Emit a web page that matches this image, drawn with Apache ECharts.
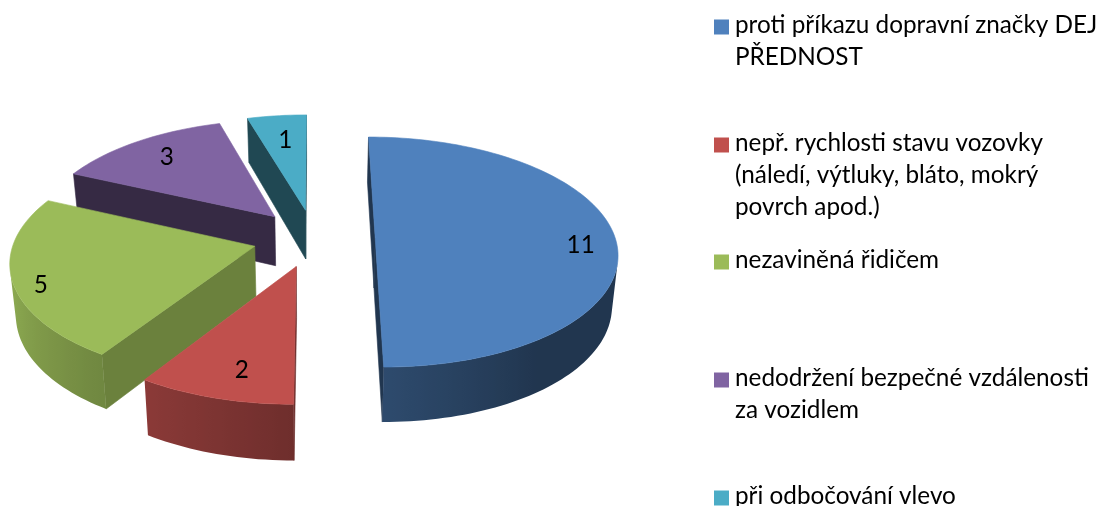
<!DOCTYPE html>
<html><head><meta charset="utf-8">
<style>html,body{margin:0;padding:0;background:#fff}#c{width:1102px;height:506px}</style>
<script src="https://cdn.jsdelivr.net/npm/echarts@6/dist/echarts.min.js"></script>
</head><body><div id="c"></div>
<script>
const categories = ['proti příkazu dopravní značky DEJ PŘEDNOST','nepř. rychlosti stavu vozovky (náledí, výtluky, bláto, mokrý povrch apod.)','nezaviněná řidičem','nedodržení bezpečné vzdálenosti za vozidlem','při odbočování vlevo'];
const values = [11,2,5,3,1];
const firstLines = ['proti příkazu dopravní značky DEJ','nepř. rychlosti stavu vozovky','nezaviněná řidičem','nedodržení bezpečné vzdálenosti','při odbočování vlevo'];
const moreLines = [['PŘEDNOST'],['(náledí, výtluky, bláto, mokrý','povrch apod.)'],[],['za vozidlem'],[]];
const colors = ['#4f81bd','#c0504d','#9bbb59','#8064a2','#4bacc6'];
const wallShade = [0.42,0.56,0.69,0.42,0.42];
const legendTops = [17,135,252,370,488];
const labelRadius = [0.85,0.8,0.9,0.78,0.72];
const labelShift = [4,-2.5,-5,0.5,0.4];
const FONT = 'Lato';
const FS = 24.3;
const P = {X0:314,Y0:238,A:240,B:113.3,k:0.122,e:0.255,D:50,m:0.1,s:0.02};
const total = values.reduce((a,b)=>a+b,0);
function project(x,y,z){
  const w = 1-P.k*y;
  return [P.X0+P.A*x/w*(1-P.s*z), P.Y0+P.B*y/w+P.D*z*(1+P.m*y)];
}
function shade(hex,f){
  const n=parseInt(hex.slice(1),16);
  return 'rgb('+[(n>>16)&255,(n>>8)&255,n&255].map(c=>Math.round(c*f)).join(',')+')';
}
function area(q){let s=0;for(let i=0;i<q.length;i++){const a=q[i],b=q[(i+1)%q.length];s+=a[0]*b[1]-b[0]*a[1];}return s;}
function arcShade(deg){return Math.min(0.92,0.42+Math.max(0,deg-145)*0.0045);}
function renderSlice(idx){
  return function(params,api){
    const v = api.value(0);
    let before = 0; for(let i=0;i<idx;i++) before+=values[i];
    const a0 = before/total*2*Math.PI, a1=(before+v)/total*2*Math.PI, mid=(a0+a1)/2;
    const ox = P.e*Math.sin(mid), oy = -P.e*Math.cos(mid);
    const world = t=>[ox+Math.sin(t), oy-Math.cos(t)];
    const n = Math.max(2,Math.ceil((a1-a0)/(Math.PI/120)));
    const arc=[]; for(let i=0;i<=n;i++) arc.push(a0+(a1-a0)*i/n);
    const top=t=>{const p=world(t);return project(p[0],p[1],0);};
    const bot=t=>{const p=world(t);return project(p[0],p[1],1);};
    const apexT=project(ox,oy,0), apexB=project(ox,oy,1);
    const col=colors[idx], children=[];
    const poly=(pts,fill)=>children.push({type:'polygon',shape:{points:pts},style:{fill:fill,stroke:fill,lineWidth:0.6}});
    const wall=shade(col,wallShade[idx]);
    const q1=[apexT,top(a0),bot(a0),apexB]; if(area(q1)<0) poly(q1,wall);
    const q2=[top(a1),apexT,apexB,bot(a1)]; if(area(q2)<0) poly(q2,wall);
    const vis=[]; for(let i=0;i<n;i++){
      const q=[top(arc[i]),top(arc[i+1]),bot(arc[i+1]),bot(arc[i])];
      if(area(q)<0) vis.push(i);
    }
    if(vis.length){
      const first=vis[0], last=vis[vis.length-1]+1, run=arc.slice(first,last+1);
      const pts=run.map(top).concat(run.map(bot).reverse());
      const xs=run.map(t=>top(t)[0]);
      const xMin=Math.min.apply(null,xs), xMax=Math.max.apply(null,xs), span=Math.max(1,xMax-xMin);
      const stops=run.map((t,i)=>({t:(xs[i]-xMin)/span,c:shade(col,arcShade(t*180/Math.PI))}))
        .sort((a,b)=>a.t-b.t).map(s=>({offset:s.t,color:s.c}));
      poly(pts,new echarts.graphic.LinearGradient(xMin,0,xMax,0,stops,true));
      children[children.length-1].style.stroke=null;
    }
    poly([apexT].concat(arc.map(top)),col);
    const lm=mid+labelShift[idx]*Math.PI/180, lp=labelRadius[idx];
    const L=project(ox+Math.sin(lm)*lp, oy-Math.cos(lm)*lp,0);
    children.push({type:'text',style:{text:String(v),x:L[0],y:L[1],fill:'#000',font:FS+'px '+FONT,align:'center',verticalAlign:'middle'}});
    return {type:'group',children};
  };
}
const series=categories.map((name,i)=>({
  type:'custom',name,coordinateSystem:'none',animation:false,silent:true,clip:false,
  z:10+(i===0?4:i===1?3:i===2?2:i===3?1:0),
  itemStyle:{color:colors[i]},data:[[values[i]]],renderItem:renderSlice(i)
}));
const legends=categories.map((name,i)=>({
  left:714,top:legendTops[i]-4,orient:'vertical',padding:0,itemWidth:15,itemHeight:19,itemGap:0,
  icon:'path://M0 0L0 0M0 4H15V19H0Z',
  selectedMode:false,data:[name],formatter:()=>firstLines[i],
  textStyle:{fontFamily:FONT,fontSize:FS,color:'#000',padding:[0,0,0,1]}
}));
const extra=[];
moreLines.forEach((lines,i)=>lines.forEach((t,j)=>extra.push({
  type:'text',left:735,top:legendTops[i]-4+(j+1)*32,
  style:{text:t,fontFamily:FONT,fontSize:FS,fill:'#000'}
})));
const chart=echarts.init(document.getElementById('c'),null,{renderer:'canvas'});
chart.setOption({animation:false,backgroundColor:'#fff',legend:legends,series,graphic:extra});
</script></body></html>
